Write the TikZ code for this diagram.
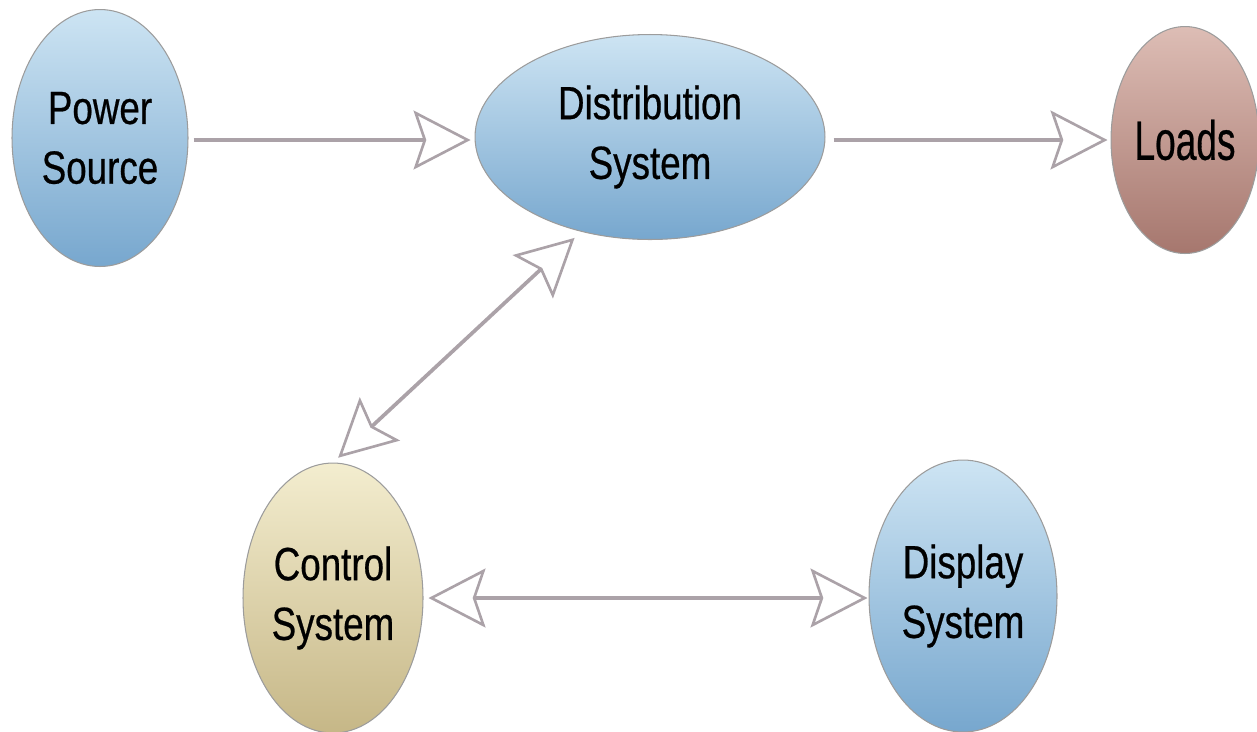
\documentclass[tikz,border=0pt]{standalone}
\usepackage{fontspec}
\newfontfamily\labelfont{Liberation Sans}[FakeStretch=0.79, FakeBold=0.5]
\newfontfamily\loadsfont{Liberation Sans}[FakeStretch=0.67, FakeBold=0.5]
\usepackage{tikz}
\usetikzlibrary{shapes.geometric,arrows.meta,positioning}
\usepackage{xcolor}
\definecolor{bluetop}{HTML}{CDE4F3}
\definecolor{bluebot}{HTML}{77A7CE}
\definecolor{loadtop}{HTML}{DDBDB5}
\definecolor{loadbot}{HTML}{A6776E}
\definecolor{ctrltop}{HTML}{F3EDCF}
\definecolor{ctrlbot}{HTML}{C6B787}
\definecolor{rim}{HTML}{9C9C9C}
\definecolor{connline}{HTML}{ABA2A8}

\tikzset{
  unit/.style={ellipse, draw=rim, line width=0.6pt, inner sep=0pt, align=center,
    font=\labelfont\fontsize{26.5}{34}\selectfont},
  bluenode/.style={unit, top color=bluetop, bottom color=bluebot},
  loadnode/.style={unit, top color=loadtop, bottom color=loadbot,
    font=\loadsfont\fontsize{31.5}{38}\selectfont},
  ctrlnode/.style={unit, top color=ctrltop, bottom color=ctrlbot},
  opentip/.tip={Stealth[open, length=1.14cm, width=1.18cm, inset=0.2cm, line width=1.5pt]},
  conn/.style={connline, line width=2.1pt, -opentip},
  biconn/.style={connline, line width=2.1pt, opentip-opentip}
}

\begin{document}
\begin{tikzpicture}[x=0.02cm, y=-0.02cm]
  \useasboundingbox (0,0) rectangle (1257,731);

  % units
  \node[bluenode, minimum width=3.52cm, minimum height=5.14cm] (power) at (100,138) {Power\\Source};
  \node[bluenode, minimum width=7cm, minimum height=4.1cm] (dist) at (650,137) {Distribution\\System};
  \node[loadnode, minimum width=2.96cm, minimum height=4.54cm] (loads) at (1185,140) {Loads};
  \node[ctrlnode, minimum width=3.6cm, minimum height=5.4cm] (control) at (333,598) {Control\\System};
  \node[bluenode, minimum width=3.76cm, minimum height=5.44cm] (display) at (963,596) {Display\\System};

  % flows
  \draw[conn, shorten <=5*0.02cm, shorten >=4*0.02cm] (power.east |- 0,140) -- (dist.west |- 0,140);
  \draw[conn, shorten <=8*0.02cm, shorten >=3*0.02cm] (dist.east |- 0,140) -- (loads.west |- 0,140);
  \draw[biconn, shorten <=9*0.02cm, shorten >=7*0.02cm] (dist.234) -- (control.north);
  \draw[biconn, shorten <=5*0.02cm, shorten >=1*0.02cm] (control.east |- 0,598) -- (display.west |- 0,598);
\end{tikzpicture}
\end{document}
